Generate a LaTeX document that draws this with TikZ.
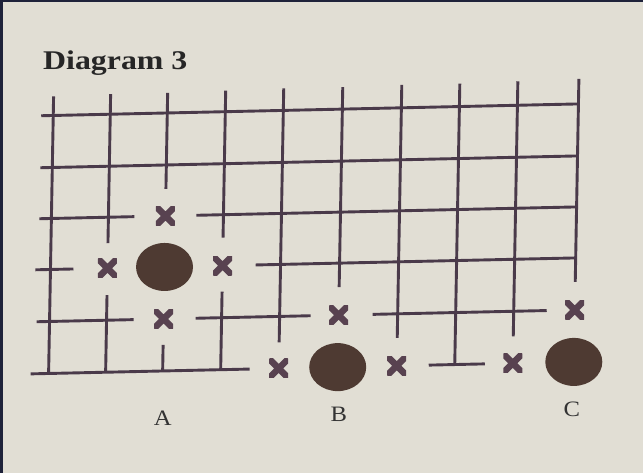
\documentclass[tikz,border=0pt]{standalone}
\usepackage{fontspec}
\usepackage{graphicx}
\setmainfont{Liberation Serif}
\usetikzlibrary{shapes.geometric}
\definecolor{paper}{RGB}{225,222,212}
\definecolor{ink}{RGB}{74,58,74}
\definecolor{stonec}{RGB}{78,58,50}
\definecolor{markc}{RGB}{88,66,80}
\definecolor{edgec}{RGB}{30,34,58}
\begin{document}
\begin{tikzpicture}[x=1pt,y=-1pt,
  gridline/.style={draw=ink,line width=2.9pt},
  stone/.style={ellipse,fill=stonec,minimum width=57pt,minimum height=48pt,inner sep=0pt},
  xmark/.style={rectangle,minimum size=19pt,inner sep=0pt,
    path picture={\draw[markc,line width=6.5pt]
      (path picture bounding box.south west) -- (path picture bounding box.north east)
      (path picture bounding box.north west) -- (path picture bounding box.south east);}},
  caption/.style={font=\fontsize{22}{24}\selectfont,inner sep=0pt,text=black!80}]
\fill[paper] (0,0) rectangle (643,473);
\useasboundingbox (0,0) rectangle (643,473);
\fill[edgec] (0,0) rectangle (643,2.5);
\fill[edgec] (0,0) rectangle (2.5,473);
\node[anchor=base west,font=\fontsize{27}{30}\selectfont\bfseries,inner sep=0pt,text=black!85] (title) at (43,70) {\scalebox{1.18}[1]{Diagram 3}};
\begin{scope}[shift={(300,240)},xslant=0.018,yslant=0.022,shift={(-300,-240)}]
  % vertical lines
  \draw[gridline] (51,91) -- (51,368);
  \draw[gridline] (108,90) -- (108,239) (108,291) -- (108,368);
  \draw[gridline] (165,90) -- (165,186) (165,342) -- (165,368);
  \draw[gridline] (223,89) -- (223,236) (223,290) -- (223,368);
  \draw[gridline] (281,88) -- (281,342);
  \draw[gridline] (340,88) -- (340,288);
  \draw[gridline] (399,87) -- (399,340);
  \draw[gridline] (457,87) -- (457,368);
  \draw[gridline] (515,86) -- (515,341);
  \draw[gridline] (576,85) -- (576,288);
  % horizontal lines
  \draw[gridline] (39,110) -- (576,110);
  \draw[gridline] (39,162) -- (576,162);
  \draw[gridline] (39,213) -- (134,213) (196,213) -- (576,213);
  \draw[gridline] (36,264) -- (74,264) (256,264) -- (576,264);
  \draw[gridline] (38,316) -- (135,316) (197,316) -- (312,316) (374,316) -- (548,316);
  \draw[gridline] (33,368) -- (252,368) (431,368) -- (487,368);
  % stones
  \node[stone] (sA) at (165,264) {};
  \node[stone] (sB) at (340,368) {};
  \node[stone] (sC) at (576,368) {};
  % marks
  \node[xmark] (a1) at (165,213) {};
  \node[xmark] (a2) at (108,264) {};
  \node[xmark] (a3) at (223,264) {};
  \node[xmark] (a4) at (165,316) {};
  \node[xmark] (b1) at (340,316) {};
  \node[xmark] (b2) at (281,368) {};
  \node[xmark] (b3) at (399,368) {};
  \node[xmark] (c1) at (576,316) {};
  \node[xmark] (c2) at (515,368) {};
  % labels
  \node[caption] (lA) at (166,415) {\scalebox{1.12}[1]{A}};
  \node[caption] (lB) at (342,415) {\scalebox{1.12}[1]{B}};
  \node[caption] (lC) at (575,415) {\scalebox{1.12}[1]{C}};
\end{scope}
\end{tikzpicture}
\end{document}
